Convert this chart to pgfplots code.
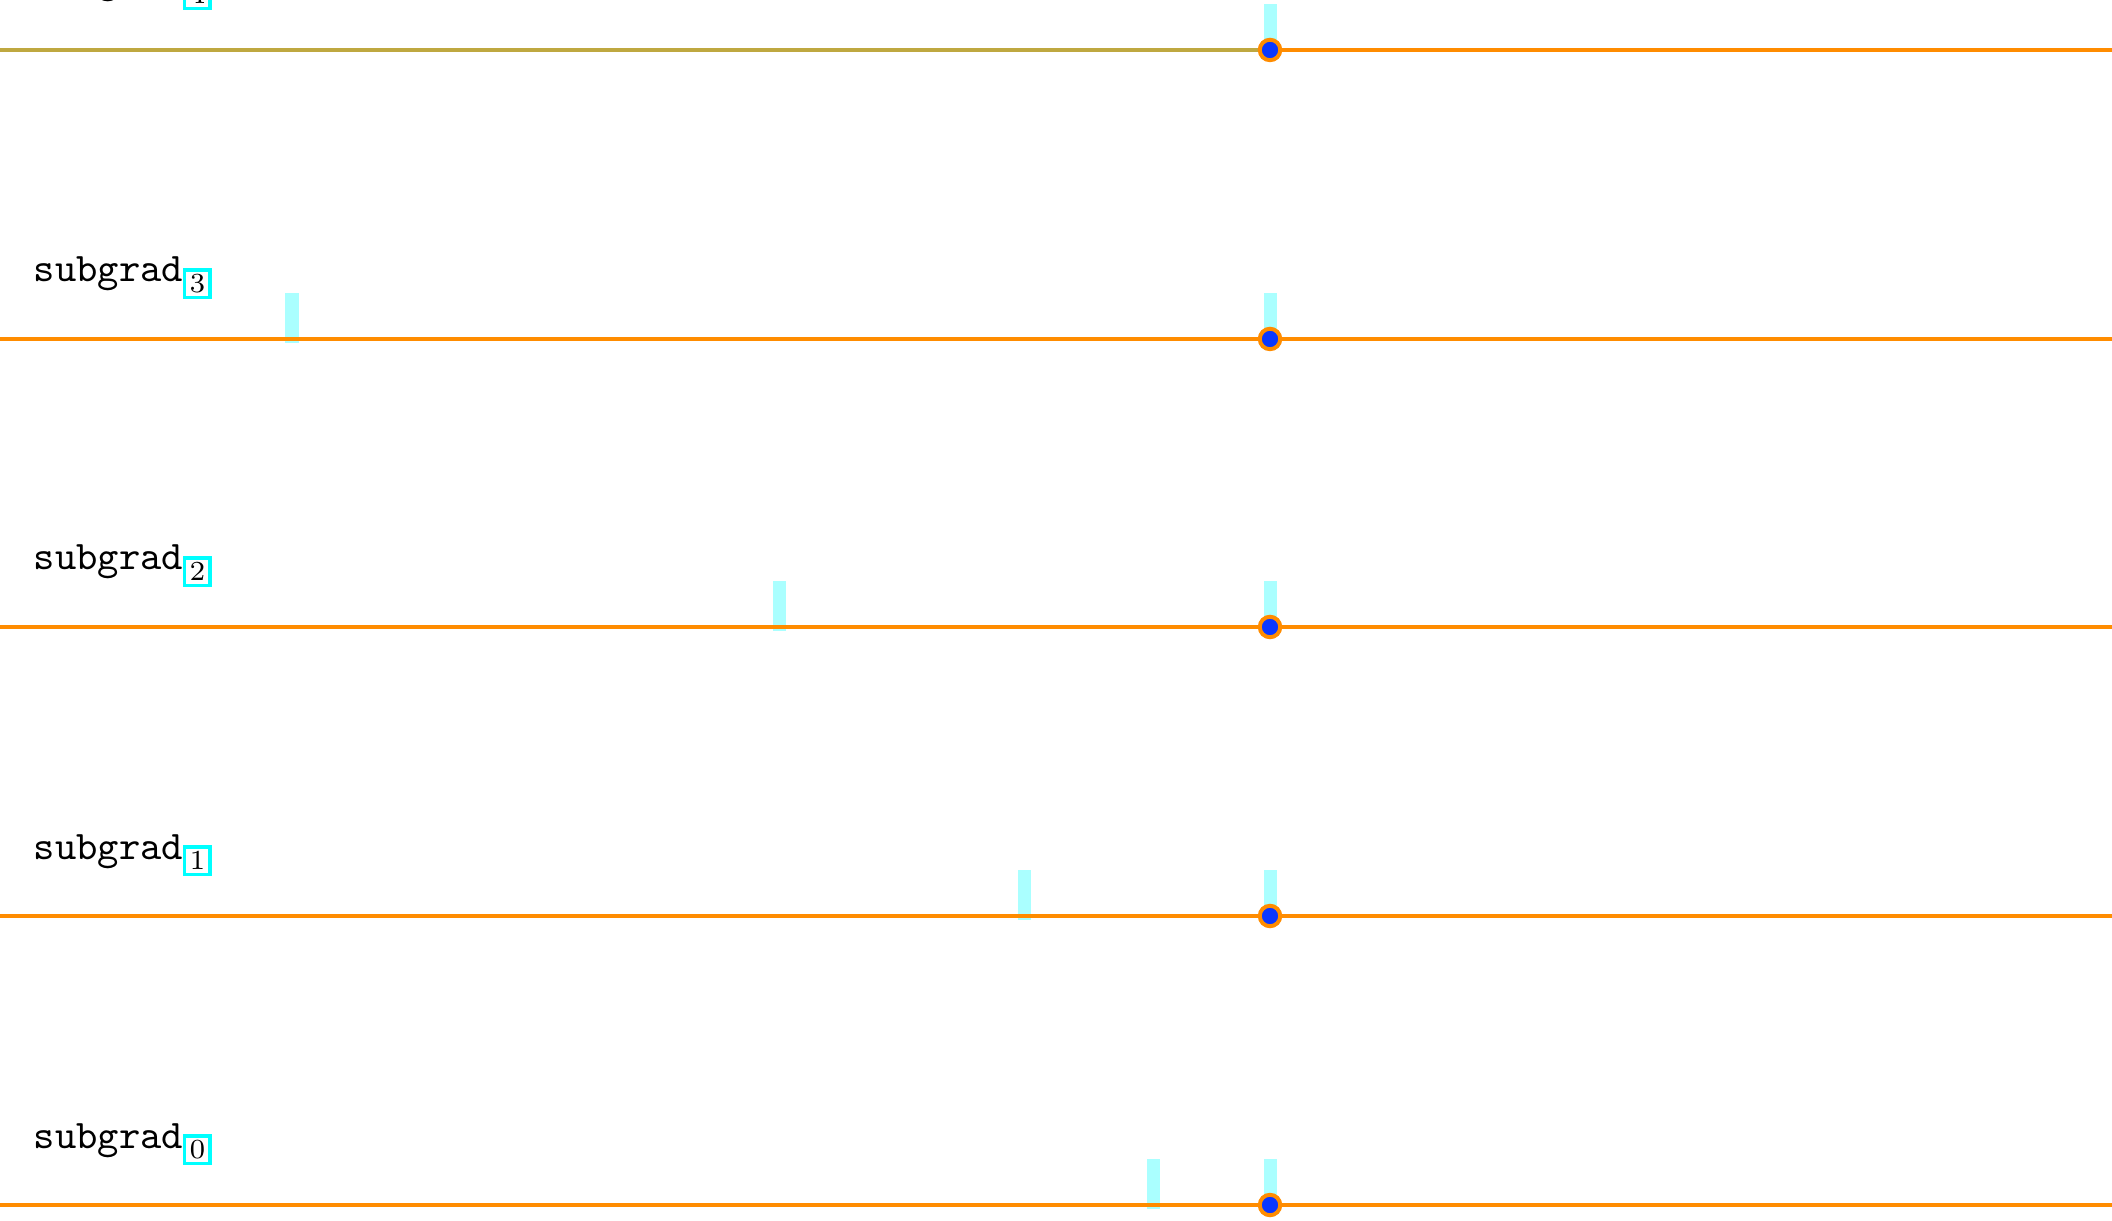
\documentclass[border=0pt]{standalone}
\usepackage{pgfplots}
\pgfplotsset{compat=1.18}
\definecolor{lineorange}{RGB}{255,140,0}
\definecolor{dotblue}{RGB}{10,55,255}
\definecolor{barcyan}{RGB}{170,255,255}
\definecolor{purecyan}{RGB}{0,255,255}
\newcommand{\sg}[1]{{\fontsize{10.3}{12}\selectfont\texttt{subgrad}$_{\setlength\fboxsep{0.8pt}\setlength\fboxrule{0.85pt}\fcolorbox{purecyan}{white}{$\scriptstyle #1$}}$}}
\begin{document}
\begin{tikzpicture}
\begin{axis}[
  scale only axis, width=535.6pt, height=309.4pt,
  xmin=0, xmax=2112, ymin=0, ymax=1220,
  hide axis, clip=false, unbounded coords=jump,
]
% cyan bars (x, bottom .. top)
\addplot[barcyan, line width=3.3pt] coordinates {
 (1270,1166) (1270,1216) (1270,nan)
 (292,877) (292,927) (292,nan)
 (1270,877) (1270,927) (1270,nan)
 (779,589) (779,639) (779,nan)
 (1270,589) (1270,639) (1270,nan)
 (1024,300) (1024,350) (1024,nan)
 (1270,300) (1270,350) (1270,nan)
 (1153,11) (1153,61) (1153,nan)
 (1270,11) (1270,61)
};
% orange baselines
\addplot[lineorange, line width=1.05pt] coordinates {
 (0,1170) (2112,1170) (2112,nan)
 (0,881) (2112,881) (2112,nan)
 (0,593) (2112,593) (2112,nan)
 (0,304) (2112,304) (2112,nan)
 (0,15) (2112,15)
};
% greenish overlay on top row left part
\addplot[purecyan, opacity=0.25, line width=1.05pt] coordinates {(0,1170) (1270,1170)};
% markers
\addplot[only marks, mark=*, mark size=2.6pt,
  mark options={fill=dotblue, draw=lineorange, line width=1pt}]
  coordinates {(1270,1170) (1270,881) (1270,593) (1270,304) (1270,15)};
% labels
\node[anchor=base west, inner sep=0pt] at (axis cs:33,1227) {\sg{4}};
\node[anchor=base west, inner sep=0pt] at (axis cs:33,938) {\sg{3}};
\node[anchor=base west, inner sep=0pt] at (axis cs:33,650) {\sg{2}};
\node[anchor=base west, inner sep=0pt] at (axis cs:33,361) {\sg{1}};
\node[anchor=base west, inner sep=0pt] at (axis cs:33,72) {\sg{0}};
\end{axis}
\pgfresetboundingbox
\path[use as bounding box] (current axis.south west) rectangle (current axis.north east);
\end{tikzpicture}
\end{document}
